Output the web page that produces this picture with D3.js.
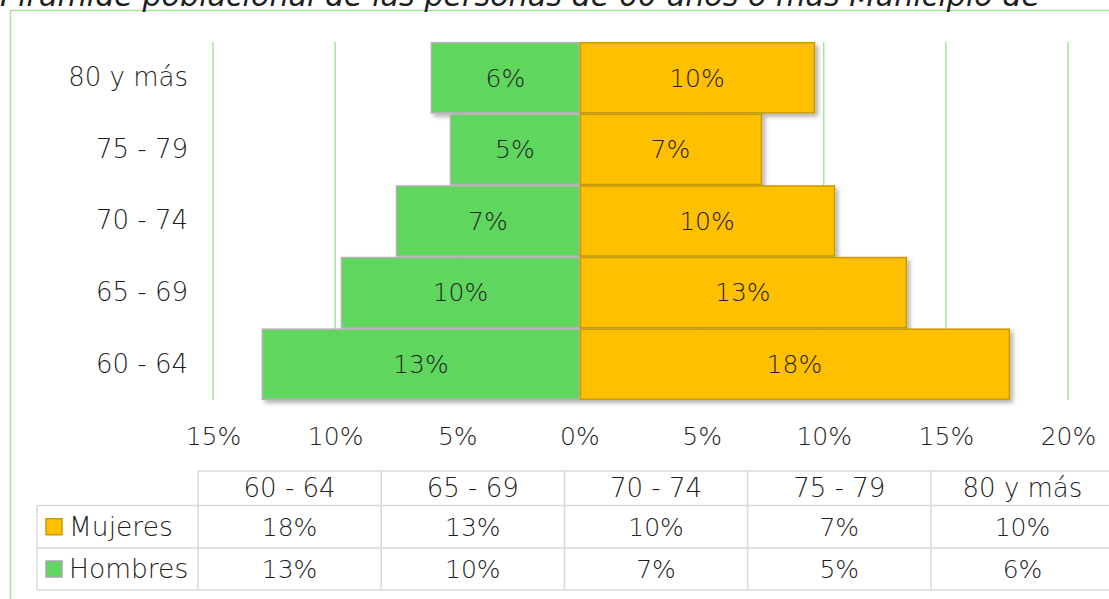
<!DOCTYPE html>
<html>
  <head>
    <style>
      body {
        margin: 0;
        background: #fff;
      }
      svg text {
        font-family: "DejaVu Sans", Lato, sans-serif;
        font-weight: 200;
        fill: #1f1f1f;
      }
    </style>
  </head>
  <body>
    <script src="https://d3js.org/d3.v7.min.js"></script>
    <script>
      const width = 1109, height = 599;

      const title = "Pirámide poblacional de las personas de 60 años o más Municipio de";
      const groups = ["60 - 64", "65 - 69", "70 - 74", "75 - 79", "80 y más"];
      const mujeres = [17.6, 13.38, 10.44, 7.45, 9.62];
      const hombres = [12.98, 9.74, 7.49, 5.28, 6.06];
      const ticks = [-15, -10, -5, 0, 5, 10, 15, 20];

      const green = "#5fd75f", orange = "#ffc000";

      const svg = d3.select("body").append("svg")
          .attr("width", width)
          .attr("height", height);

      const defs = svg.append("defs");
      defs.append("filter")
          .attr("id", "shadow")
          .attr("x", "-10%").attr("y", "-10%")
          .attr("width", "130%").attr("height", "140%")
        .append("feDropShadow")
          .attr("dx", 3).attr("dy", 3)
          .attr("stdDeviation", 2)
          .attr("flood-color", "#000")
          .attr("flood-opacity", 0.3);

      // outer frame bits
      svg.append("path")
          .attr("d", `M10.5,${height}V10.5H${width}`)
          .attr("fill", "none")
          .attr("stroke", "#a9e3a0")
          .attr("stroke-width", 1.5);

      svg.append("text")
          .attr("x", 0)
          .attr("y", 6)
          .attr("textLength", 1040)
          .attr("lengthAdjust", "spacingAndGlyphs")
          .style("font-style", "italic")
          .style("font-size", "30px")
          .text(title);

      const x = d3.scaleLinear()
          .domain([-15, 20])
          .range([213, 1068]);

      const y = d3.scaleBand()
          .domain(groups.slice().reverse())
          .range([42, 400])
          .padding(0);

      const pct = d => `${Math.abs(d)}%`;

      // grid
      svg.append("g")
        .selectAll("line")
        .data(ticks.filter(d => d !== 0))
        .join("line")
          .attr("x1", d => x(d)).attr("x2", d => x(d))
          .attr("y1", 42).attr("y2", 400)
          .attr("stroke", "#a9e3a0")
          .attr("stroke-width", 1.5);

      // x axis labels
      const xAxis = svg.append("g")
          .attr("transform", "translate(0,433)")
          .call(d3.axisBottom(x).tickValues(ticks).tickFormat(pct).tickSize(0));
      xAxis.select(".domain").remove();
      xAxis.selectAll("text")
          .attr("dy", "0.35em")
          .style("font-size", "25px")
          .style("font-family", null);

      // y axis labels
      const yAxis = svg.append("g")
          .attr("transform", "translate(188,0)")
          .call(d3.axisLeft(y).tickSize(0).tickPadding(0));
      yAxis.select(".domain").remove();
      yAxis.selectAll("text")
          .style("font-size", "26px")
          .style("font-family", null);

      const rows = groups.map((g, i) => ({g, m: mujeres[i], h: hombres[i]}));
      const bars = svg.append("g");

      // draw top row first so lower rows stack over it
      rows.slice().reverse().forEach(d => {
        bars.append("rect")
            .attr("x", x(-d.h))
            .attr("y", y(d.g) + 0.75)
            .attr("width", x(0) - x(-d.h))
            .attr("height", y.bandwidth() - 1.5)
            .attr("fill", green)
            .attr("stroke", "#b3b3b3")
            .attr("stroke-width", 1.5)
            .attr("filter", "url(#shadow)");
        bars.append("rect")
            .attr("x", x(0) + 1)
            .attr("y", y(d.g) + 0.75)
            .attr("width", x(d.m) - x(0) - 1)
            .attr("height", y.bandwidth() - 1.5)
            .attr("fill", orange)
            .attr("stroke", "#c89b00")
            .attr("stroke-width", 1.5)
            .attr("filter", "url(#shadow)");
      });

      const labels = svg.append("g")
          .attr("text-anchor", "middle")
          .style("font-size", "25px");
      rows.forEach(d => {
        labels.append("text")
            .attr("x", (x(-d.h) + x(0)) / 2)
            .attr("y", y(d.g) + y.bandwidth() / 2)
            .attr("dy", "0.35em")
            .text(`${Math.round(d.h)}%`);
        labels.append("text")
            .attr("x", (x(0) + x(d.m)) / 2)
            .attr("y", y(d.g) + y.bandwidth() / 2)
            .attr("dy", "0.35em")
            .text(`${Math.round(d.m)}%`);
      });

      // data table
      const colW = x(-7.5) - x(-15);
      const tx = d3.scaleBand().domain(groups).range([198, 198 + colW * 5]);
      const rowY = [471, 505.5, 548, 590];
      const tbl = svg.append("g");
      const border = "#d9d9d9";

      tbl.append("line")
          .attr("x1", 198).attr("x2", width)
          .attr("y1", rowY[0]).attr("y2", rowY[0])
          .attr("stroke", border).attr("stroke-width", 1.5);
      [1, 2, 3].forEach(i => {
        tbl.append("line")
            .attr("x1", 37).attr("x2", width)
            .attr("y1", rowY[i]).attr("y2", rowY[i])
            .attr("stroke", border).attr("stroke-width", 1.5);
      });
      tbl.append("line")
          .attr("x1", 37).attr("x2", 37)
          .attr("y1", rowY[1]).attr("y2", rowY[3])
          .attr("stroke", border).attr("stroke-width", 1.5);
      groups.concat([null]).forEach((g, i) => {
        const cx = 198 + colW * i;
        tbl.append("line")
            .attr("x1", cx).attr("x2", cx)
            .attr("y1", rowY[0]).attr("y2", rowY[3])
            .attr("stroke", border).attr("stroke-width", 1.5);
      });

      const cell = tbl.append("g")
          .attr("text-anchor", "middle")
          .style("font-size", "25px");
      groups.forEach((g, i) => {
        const cx = tx(g) + tx.bandwidth() / 2;
        cell.append("text").attr("x", cx).attr("y", (rowY[0] + rowY[1]) / 2).attr("dy", "0.35em")
            .style("font-size", "26px").text(g);
        cell.append("text").attr("x", cx).attr("y", (rowY[1] + rowY[2]) / 2).attr("dy", "0.35em").text(`${Math.round(mujeres[i])}%`);
        cell.append("text").attr("x", cx).attr("y", (rowY[2] + rowY[3]) / 2).attr("dy", "0.35em").text(`${Math.round(hombres[i])}%`);
      });

      const legend = [
        {name: "Mujeres", fill: orange, stroke: "#c89b00"},
        {name: "Hombres", fill: green, stroke: "#a6a6a6"}
      ];
      legend.forEach((d, i) => {
        const cy = (rowY[i + 1] + rowY[i + 2]) / 2;
        tbl.append("rect")
            .attr("x", 46).attr("y", cy - 8)
            .attr("width", 16).attr("height", 16)
            .attr("fill", d.fill)
            .attr("stroke", d.stroke)
            .attr("stroke-width", 1.5);
        tbl.append("text")
            .attr("x", 69).attr("y", cy)
            .attr("dy", "0.35em")
            .style("font-size", "26.5px")
            .text(d.name);
      });
    </script>
  </body>
</html>
